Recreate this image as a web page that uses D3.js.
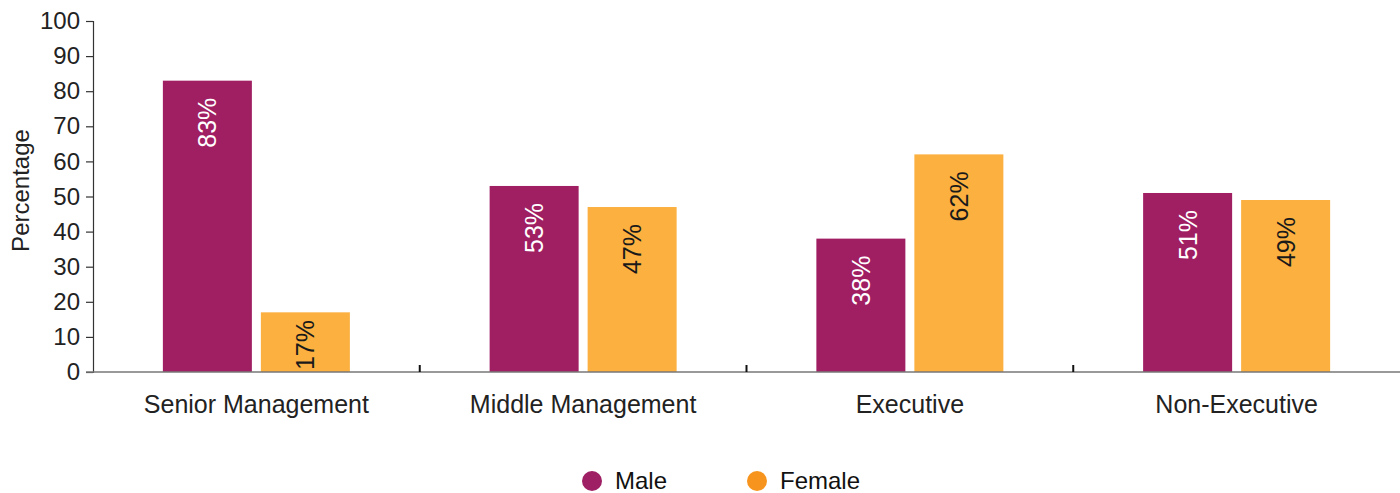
<!DOCTYPE html>
<html>
<head>
<meta charset="utf-8">
<script src="https://cdn.jsdelivr.net/npm/d3@7"></script>
<style>
  html, body { margin: 0; padding: 0; background: #fff; }
  svg { display: block; font-family: "Liberation Sans", Arial, Helvetica, sans-serif; }
</style>
</head>
<body>
<svg id="chart" width="1400" height="493"></svg>
<script>
// Gender split by staff level (percent)
const categories = ["Senior Management", "Middle Management", "Executive", "Non-Executive"];
const seriesNames = ["Male", "Female"];
const maleValues = [83, 53, 38, 51];
const femaleValues = [17, 47, 62, 49];
const yTicks = [0, 10, 20, 30, 40, 50, 60, 70, 80, 90, 100];

const barColors = { Male: "#a01e62", Female: "#fbb040" };
const legendColors = { Male: "#9e1f63", Female: "#f7941d" };
const labelColors = { Male: "#ffffff", Female: "#1a1a1a" };

const rows = categories.map((c, i) => ({
  category: c,
  values: [
    { series: "Male", value: maleValues[i] },
    { series: "Female", value: femaleValues[i] }
  ]
}));

const svg = d3.select("#chart");
const plotLeft = 93, plotRight = 1400, plotTop = 21, plotBottom = 372;

const x0 = d3.scaleBand().domain(categories).range([plotLeft, plotRight]).padding(0);
const groupWidth = 187;
const x1 = d3.scaleBand().domain(seriesNames).range([0, groupWidth]).paddingInner(0.0918).paddingOuter(0);
const y = d3.scaleLinear().domain([0, 100]).range([plotBottom, plotTop]);

// Bars
const groups = svg.append("g")
  .selectAll("g")
  .data(rows)
  .join("g")
  .attr("transform", d => `translate(${x0(d.category) + (x0.bandwidth() - groupWidth) / 2},0)`);

groups.selectAll("rect")
  .data(d => d.values)
  .join("rect")
  .attr("x", d => x1(d.series))
  .attr("y", d => y(d.value))
  .attr("width", x1.bandwidth())
  .attr("height", d => y(0) - y(d.value))
  .attr("fill", d => barColors[d.series]);

// Value labels, rotated, inside the top of each bar (kept above the baseline on short bars)
const labelLen = 48;
groups.selectAll("text")
  .data(d => d.values)
  .join("text")
  .attr("transform", d => {
    const start = Math.min(y(d.value) + 17, y(0) - labelLen - 4);
    return `translate(${x1(d.series) + x1.bandwidth() / 2},${start}) rotate(-90)`;
  })
  .attr("text-anchor", "end")
  .attr("dy", "0.36em")
  .attr("font-size", 25)
  .attr("fill", d => labelColors[d.series])
  .text(d => d.value + "%");

// Y axis
const yAxis = svg.append("g")
  .attr("transform", `translate(${plotLeft},0)`)
  .call(d3.axisLeft(y).tickValues(yTicks).tickSize(7).tickPadding(6));
yAxis.select(".domain").attr("stroke", "#333").attr("stroke-width", 1.2);
yAxis.selectAll(".tick line").attr("stroke", "#333").attr("stroke-width", 1.2);
yAxis.selectAll(".tick text")
  .attr("font-size", 24)
  .attr("font-family", "Liberation Sans, Arial, sans-serif")
  .attr("fill", "#222");

// X axis baseline
svg.append("line")
  .attr("x1", plotLeft - 7).attr("x2", plotRight)
  .attr("y1", y(0)).attr("y2", y(0))
  .attr("stroke", "#777").attr("stroke-width", 1.5);

// Separator ticks between categories
svg.append("g")
  .selectAll("line")
  .data(categories.slice(1))
  .join("line")
  .attr("x1", d => x0(d)).attr("x2", d => x0(d))
  .attr("y1", y(0)).attr("y2", y(0) - 7)
  .attr("stroke", "#111").attr("stroke-width", 2);

// Category labels
svg.append("g")
  .selectAll("text")
  .data(categories)
  .join("text")
  .attr("x", d => x0(d) + x0.bandwidth() / 2)
  .attr("y", 413)
  .attr("text-anchor", "middle")
  .attr("font-size", 25)
  .attr("fill", "#222")
  .text(d => d);

// Y axis title
svg.append("text")
  .attr("transform", `translate(29,${(plotTop + plotBottom) / 2 - 6}) rotate(-90)`)
  .attr("text-anchor", "middle")
  .attr("font-size", 24)
  .attr("fill", "#222")
  .text("Percentage");

// Legend
const legendItems = [
  { name: "Male", cx: 592 },
  { name: "Female", cx: 757 }
];
const legend = svg.append("g")
  .selectAll("g")
  .data(legendItems)
  .join("g")
  .attr("transform", d => `translate(${d.cx},481)`);
legend.append("circle")
  .attr("r", 10)
  .attr("fill", d => legendColors[d.name]);
legend.append("text")
  .attr("x", 23)
  .attr("dy", "0.35em")
  .attr("font-size", 24)
  .attr("fill", "#111")
  .text(d => d.name);
</script>
</body>
</html>
